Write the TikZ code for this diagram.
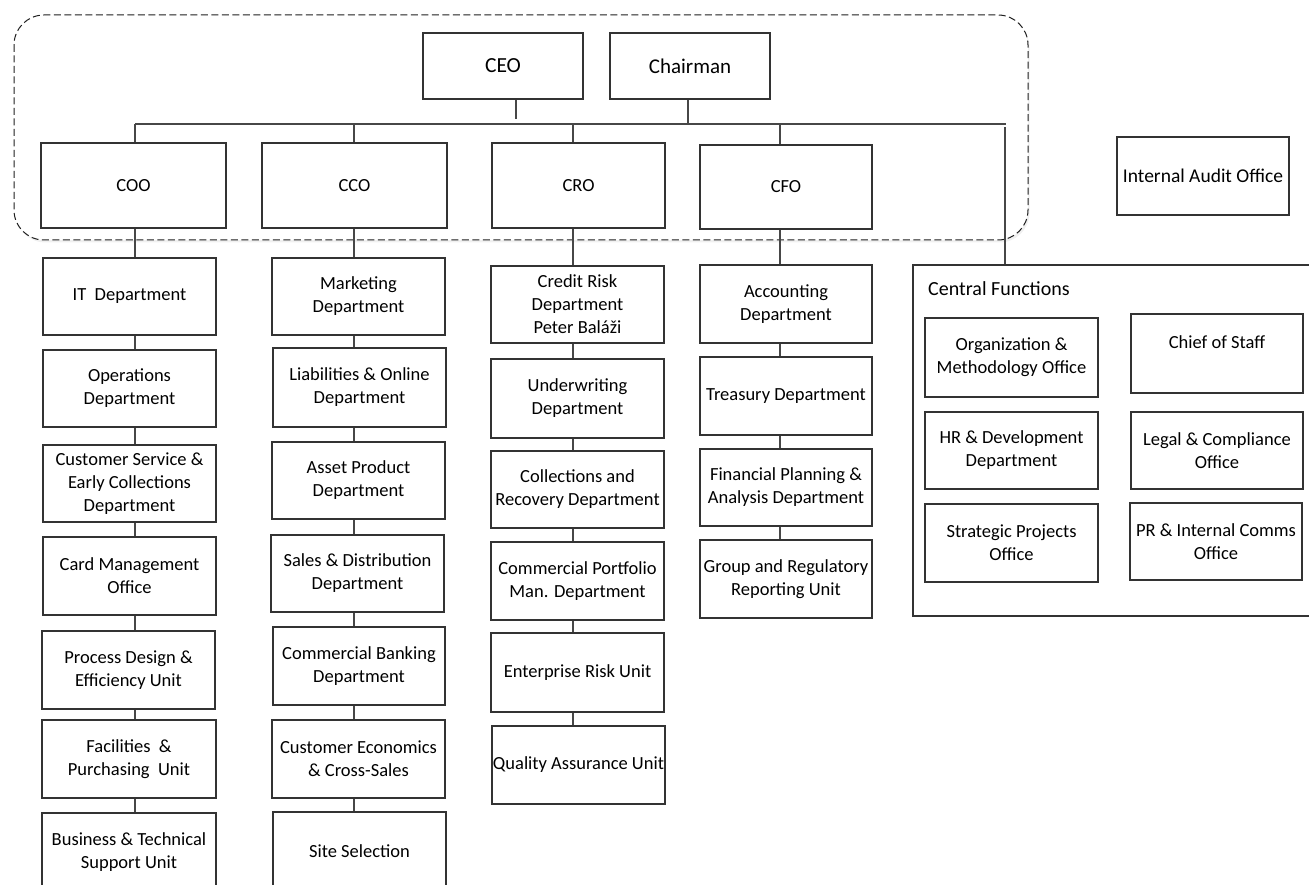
\documentclass[tikz,border=0pt]{standalone}
\usepackage{fontspec}
\setmainfont{Carlito}
\usetikzlibrary{shadows}
\tikzset{
  box/.style={draw=black!80, line width=1.15pt, fill=white, inner sep=0pt, align=center,
              font=\fontsize{18.5}{23}\selectfont},
  conn/.style={draw=black!72, line width=1.1pt},
  group/.style={draw=black!88, line width=1pt, dash pattern=on 7pt off 3.5pt, rounded corners=30pt,
                fill=white, drop shadow={opacity=0.12, shadow xshift=1.5pt, shadow yshift=-2.5pt}},
}
\newcommand\obox[6]{%
  \pgfmathsetmacro\bw{#4-#2}\pgfmathsetmacro\bh{#5-#3}%
  \pgfmathsetmacro\bcx{(#2+#4)/2}\pgfmathsetmacro\bcy{(#3+#5)/2}%
  \node[box, minimum width=\bw pt, minimum height=\bh pt] (#1) at (\bcx,\bcy) {#6};}
\begin{document}
\begin{tikzpicture}[x=1pt,y=-1pt]
\useasboundingbox (0,0) rectangle (1309,885);
% executive group frame
\draw[group] (14,15) rectangle (1028,240);

% top
\obox{ceo}{423}{33}{583}{99}{\fontsize{21.5}{25}\selectfont CEO}
\obox{chair}{610}{33}{770}{99}{\fontsize{21}{25}\selectfont Chairman}
% C-level
\obox{coo}{41}{143}{226}{228}{COO}
\obox{cco}{262}{143}{447}{228}{CCO}
\obox{cro}{492}{143}{665}{228}{CRO}
\obox{cfo}{700}{145}{872}{229}{CFO}

% COO column
\obox{it}{43}{258}{216}{335}{IT\ \ Department}
\obox{ops}{43}{350}{216}{427}{Operations\\Department}
\obox{cse}{43}{445}{216}{522}{Customer Service \&\\Early Collections\\Department}
\obox{card}{43}{537}{216}{615}{Card Management\\Office}
\obox{proc}{42}{631}{215}{709}{Process Design \&\\Efficiency Unit}
\obox{fac}{42}{720}{216}{798}{Facilities\ \ \&\\Purchasing\ \ Unit}
\obox{bts}{42}{813}{216}{891}{Business \& Technical\\Support Unit}

% CCO column
\obox{mkt}{272}{258}{445}{335}{Marketing\\Department}
\obox{liab}{273}{348}{446}{427}{Liabilities \& Online\\Department}
\obox{asset}{272}{442}{445}{519}{Asset Product\\Department}
\obox{sales}{271}{535}{444}{612}{Sales \& Distribution\\Department}
\obox{comb}{273}{627}{445}{705}{Commercial Banking\\Department}
\obox{cust}{272}{720}{445}{798}{Customer Economics\\\& Cross-Sales}
\obox{site}{273}{812}{446}{890}{Site Selection}

% CRO column
\obox{crd}{491}{266}{664}{343}{Credit Risk\\Department\\Peter Baláži}
\obox{und}{491}{359}{664}{438}{Underwriting\\Department}
\obox{coll}{491}{451}{664}{528}{Collections and\\Recovery Department}
\obox{cpm}{491}{542}{664}{620}{Commercial Portfolio\\Man. Department}
\obox{eru}{491}{633}{664}{712}{Enterprise Risk Unit}
\obox{qau}{492}{726}{665}{804}{Quality Assurance Unit}

% CFO column
\obox{acc}{700}{265}{872}{343}{Accounting\\Department}
\obox{tre}{700}{357}{872}{435}{Treasury Department}
\obox{fpa}{700}{449}{872}{526}{Financial Planning \&\\Analysis Department}
\obox{grr}{700}{540}{872}{618}{Group and Regulatory\\Reporting Unit}

% Internal audit
\obox{iao}{1117}{137}{1289}{215}{\fontsize{19.5}{23}\selectfont Internal Audit Office}

% Central functions
\obox{cf}{913}{265}{1316}{616}{}
\node[anchor=west, inner sep=0pt, font=\fontsize{20}{24}\selectfont] (cft) at (928,289) {Central Functions};
\obox{org}{925}{318}{1098}{397}{Organization \&\\Methodology Office}
\obox{cos}{1131}{314}{1303}{393}{Chief of Staff\\\mbox{}}
\obox{hr}{925}{412}{1098}{489}{HR \& Development\\Department}
\obox{legal}{1131}{412}{1303}{489}{Legal \& Compliance\\Office}
\obox{spo}{925}{504}{1098}{582}{Strategic Projects\\Office}
\obox{pr}{1130}{503}{1302}{580}{PR \& Internal Comms\\Office}

% bus and connectors
\coordinate (bL) at (135,124);
\coordinate (bCCO) at (354,124);
\coordinate (bCRO) at (573,124);
\coordinate (bCFO) at (780,124);
\coordinate (bR) at (1006,124);
\coordinate (ceoE) at (516,119);
\coordinate (chE) at (688,124);
\coordinate (cfE) at (1005,127);

\draw[conn] (bL) -- (bR);
\draw[conn] (ceo.south -| ceoE) -- (ceoE);
\draw[conn] (chair.south -| chE) -- (chE);
\draw[conn] (bL) -- (bL |- coo.north);
\draw[conn] (bCCO) -- (bCCO |- cco.north);
\draw[conn] (bCRO) -- (bCRO |- cro.north);
\draw[conn] (bCFO) -- (bCFO |- cfo.north);
\draw[conn] (cfE) -- (cfE |- cf.north);

\foreach \a/\b in {coo/it,it/ops,ops/cse,cse/card,card/proc,proc/fac,fac/bts}
  \draw[conn] (\a.south -| bL) -- (\b.north -| bL);
\foreach \a/\b in {cco/mkt,mkt/liab,liab/asset,asset/sales,sales/comb,comb/cust,cust/site}
  \draw[conn] (\a.south -| bCCO) -- (\b.north -| bCCO);
\foreach \a/\b in {cro/crd,crd/und,und/coll,coll/cpm,cpm/eru,eru/qau}
  \draw[conn] (\a.south -| bCRO) -- (\b.north -| bCRO);
\foreach \a/\b in {cfo/acc,acc/tre,tre/fpa,fpa/grr}
  \draw[conn] (\a.south -| bCFO) -- (\b.north -| bCFO);
\end{tikzpicture}
\end{document}
